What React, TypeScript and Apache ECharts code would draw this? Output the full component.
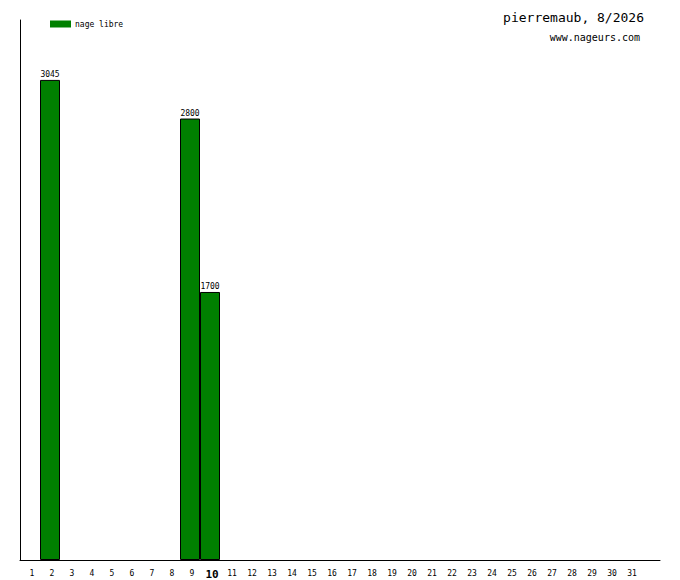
import React, { useEffect, useRef } from "react";
import * as echarts from "echarts";

const days = ["1","2","3","4","5","6","7","8","9","10","11","12","13","14","15","16","17","18","19","20","21","22","23","24","25","26","27","28","29","30","31",""];
const nageLibre = [null, 3045, null, null, null, null, null, null, 2800, 1700, null, null, null, null, null, null, null, null, null, null, null, null, null, null, null, null, null, null, null, null, null, null];
const seriesName = "nage libre";
const titleText = "pierremaub, 8/2026";
const siteText = "www.nageurs.com";
const highlightDay = "10";
const yMax = 3425;

const mono = "DejaVu Sans Mono";

export default function App() {
  const ref = useRef<HTMLDivElement>(null);
  useEffect(() => {
    document.body.style.margin = "0";
    const chart = echarts.init(ref.current!, null, { renderer: "svg" });
    chart.setOption({
      animation: false,
      backgroundColor: "#ffffff",
      title: [
        {
          text: titleText,
          right: 36,
          top: 11,
          padding: 0,
          textStyle: { fontFamily: mono, fontSize: 13, fontWeight: "normal", color: "#000" },
        },
        {
          text: siteText,
          right: 40,
          top: 32,
          padding: 0,
          textStyle: { fontFamily: mono, fontSize: 10, fontWeight: "normal", color: "#000" },
        },
      ],
      legend: {
        left: 50,
        top: 20,
        padding: 0,
        itemWidth: 21,
        itemHeight: 7,
        icon: "rect",
        itemStyle: { borderWidth: 0 },
        textStyle: { fontFamily: mono, fontSize: 8, color: "#000", padding: [0, 0, 0, -1] },
        data: [seriesName],
      },
      grid: { left: 20, right: 20, top: 20, bottom: 20, containLabel: false },
      xAxis: {
        type: "category",
        data: days,
        boundaryGap: true,
        axisLine: { lineStyle: { color: "#000", width: 1 } },
        axisTick: { show: false },
        axisLabel: {
          interval: 0,
          margin: 9,
          padding: [0, 0, 0, 4],
          fontFamily: mono,
          fontSize: 8,
          color: "#000",
          formatter: (v: string) => (v === highlightDay ? "{b|" + v + "}" : v),
          rich: {
            b: { fontFamily: mono, fontSize: 11, fontWeight: "bold", color: "#000" },
          },
        },
        splitLine: { show: false },
      },
      yAxis: {
        type: "value",
        min: 0,
        max: yMax,
        axisLine: { show: true, lineStyle: { color: "#000", width: 1 } },
        axisTick: { show: false },
        axisLabel: { show: false },
        splitLine: { show: false },
      },
      series: [
        {
          name: seriesName,
          type: "bar",
          data: nageLibre,
          barCategoryGap: "0%",
          itemStyle: { color: "#008000", borderColor: "#000", borderWidth: 1 },
          label: {
            show: true,
            position: "top",
            distance: 1,
            fontFamily: mono,
            fontSize: 8,
            color: "#000",
          },
        },
      ],
    });
    return () => chart.dispose();
  }, []);
  return <div ref={ref} style={{ width: 680, height: 580 }} />;
}
